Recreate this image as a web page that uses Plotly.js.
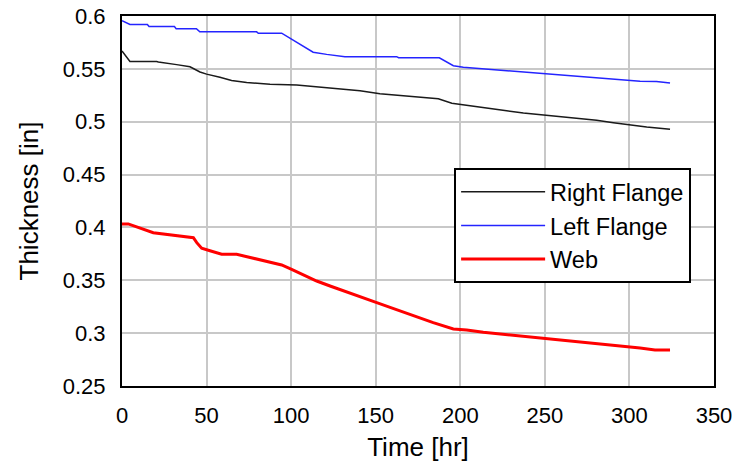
<!DOCTYPE html>
<html>
<head>
<meta charset="utf-8">
<script src="https://cdn.plot.ly/plotly-3.0.1.min.js"></script>
<style>html,body{margin:0;padding:0;background:#fff;}#chart{width:737px;height:465px;}</style>
</head>
<body>
<div id="chart"></div>
<script>
const seriesNames = ["Right Flange", "Left Flange", "Web"];

const rightTime = [0, 4.7, 20.5, 21.5, 32.3, 40.2, 46.1, 50, 57.9, 64.8, 73.7, 87.5, 103.3, 118, 125.9, 140.7, 152.5, 162.4, 172.2, 182, 187, 195, 205.7, 215.6, 227.4, 237.3, 249, 258.9, 268.8, 280.6, 290.5, 300.3, 310.2, 324];
const rightThickness = [0.567, 0.557, 0.557, 0.5565, 0.554, 0.552, 0.547, 0.545, 0.542, 0.539, 0.537, 0.5355, 0.5347, 0.5326, 0.531, 0.5293, 0.5265, 0.5253, 0.5237, 0.5227, 0.5218, 0.5174, 0.5149, 0.5127, 0.5104, 0.5083, 0.5066, 0.5051, 0.5032, 0.5013, 0.4991, 0.4969, 0.495, 0.4928];

const leftTime = [0, 4.7, 15, 16, 31, 32, 44, 46, 79.6, 80.6, 94.4, 113, 121, 131.8, 162.4, 163.5, 187.6, 195.9, 201.8, 213.6, 225.4, 236.3, 249, 261, 271.8, 283.6, 294.4, 306.3, 316, 324];
const leftThickness = [0.5956, 0.592, 0.592, 0.590, 0.590, 0.588, 0.588, 0.585, 0.585, 0.5837, 0.5837, 0.5657, 0.5637, 0.5615, 0.5615, 0.5605, 0.5605, 0.553, 0.5515, 0.550, 0.5487, 0.547, 0.5458, 0.5439, 0.5426, 0.5407, 0.5395, 0.5382, 0.538, 0.5366];

const webTime = [0, 3.7, 18.5, 24.4, 34.3, 42.2, 44.2, 47.1, 52, 58.9, 67.8, 75.7, 83.5, 91.4, 94.4, 100.3, 107.2, 115.1, 123, 132.8, 142.7, 150.6, 158.5, 168.3, 176.2, 184, 195.9, 203.8, 213.6, 223.5, 232.4, 241.2, 250.1, 260, 268.8, 278.7, 287.5, 296.4, 306.3, 315.1, 324];
const webThickness = [0.4033, 0.4033, 0.395, 0.3938, 0.3913, 0.3903, 0.3856, 0.3803, 0.378, 0.3746, 0.3746, 0.3717, 0.3686, 0.3661, 0.3645, 0.3604, 0.355, 0.3493, 0.3446, 0.3392, 0.3339, 0.3288, 0.3244, 0.3188, 0.3146, 0.3099, 0.3039, 0.303, 0.3008, 0.2992, 0.2976, 0.2964, 0.2951, 0.2932, 0.2919, 0.2904, 0.2894, 0.2876, 0.2859, 0.2841, 0.2841];

const xTickVals = [0, 50, 100, 150, 200, 250, 300, 350];
const yTickVals = [0.25, 0.3, 0.35, 0.4, 0.45, 0.5, 0.55, 0.6];
const yTickText = ["0.25", "0.3", "0.35", "0.4", "0.45", "0.5", "0.55", "0.6"];

const FONT = "Liberation Sans, Arial, sans-serif";

const traces = [
  {x: rightTime, y: rightThickness, name: seriesNames[0], mode: "lines", line: {color: "#1a1a1a", width: 1.5}},
  {x: leftTime, y: leftThickness, name: seriesNames[1], mode: "lines", line: {color: "#2424ff", width: 1.5}},
  {x: webTime, y: webThickness, name: seriesNames[2], mode: "lines", line: {color: "#ff0000", width: 3}}
];

const layout = {
  width: 737, height: 465,
  margin: {l: 122, r: 23, t: 16, b: 79, pad: 0},
  paper_bgcolor: "#fff", plot_bgcolor: "#fff",
  font: {family: FONT, size: 22, color: "#000"},
  showlegend: true,
  legend: {
    x: 0.561, y: 0.589, xanchor: "left", yanchor: "top",
    bgcolor: "#fff", bordercolor: "#000", borderwidth: 2,
    font: {family: FONT, size: 23.5, color: "#000"},
    itemwidth: 84, tracegroupgap: 0
  },
  xaxis: {
    range: [0, 350], tickvals: xTickVals, ticktext: xTickVals.map(String),
    showgrid: true, gridcolor: "#c8c8c8", gridwidth: 2,
    showline: true, linecolor: "#000", linewidth: 2, mirror: true,
    ticks: "", ticklabelstandoff: 9, zeroline: false,
    tickfont: {family: FONT, size: 22, color: "#000"},
    title: {text: "Time [hr]", font: {family: FONT, size: 26, color: "#000"}, standoff: 10}
  },
  yaxis: {
    range: [0.25, 0.6], tickvals: yTickVals, ticktext: yTickText,
    showgrid: true, gridcolor: "#c8c8c8", gridwidth: 2,
    showline: true, linecolor: "#000", linewidth: 2, mirror: true,
    ticks: "", ticklabelstandoff: 10, zeroline: false,
    tickfont: {family: FONT, size: 22, color: "#000"},
    title: {text: "Thickness [in]", font: {family: FONT, size: 26, color: "#000"}, standoff: 17}
  }
};

Plotly.newPlot("chart", traces, layout, {displayModeBar: false, staticPlot: true});
</script>
</body>
</html>
